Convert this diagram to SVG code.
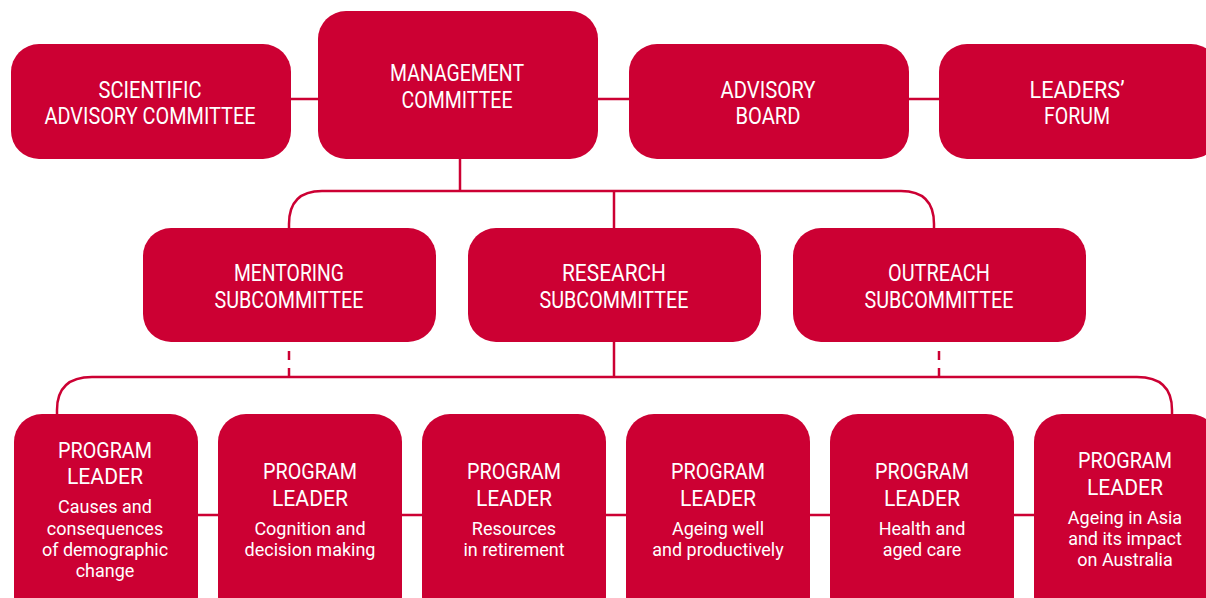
<svg xmlns="http://www.w3.org/2000/svg" width="1206" height="598" viewBox="0 0 1206 598">
<style>
.box{fill:#cc0033}
.ln{fill:none;stroke:#cc0033;stroke-width:2.5}
.dash{stroke-dasharray:9 8}
.h{font-family:Roboto,'Liberation Sans',sans-serif;font-size:23px;fill:#fff;text-anchor:middle}
.p{font-family:Roboto,'Liberation Sans',sans-serif;font-size:22px;fill:#fff;text-anchor:middle}
.s{font-family:Roboto,'Liberation Sans',sans-serif;font-size:18px;fill:#fff;text-anchor:middle}
</style>
<rect width="1206" height="598" fill="#fff"/>
<g id="connectors">
<line class="ln" x1="291" y1="99" x2="939" y2="99"/>
<line class="ln" x1="460" y1="159" x2="460" y2="191"/>
<path class="ln" d="M289,228 V224 Q289,191 322,191 H901 Q934,191 934,224 V228"/>
<line class="ln" x1="614" y1="191" x2="614" y2="377"/>
<path class="ln" d="M57,414 V410 Q57,377 92,377 H1137 Q1172,377 1172,410 V414"/>
<path class="ln dash" d="M289,377 V343"/>
<path class="ln dash" d="M939,377 V343"/>
<line class="ln" x1="198" y1="515" x2="1034" y2="515"/>
</g>
<g id="scientific"><rect class="box" x="11" y="44" width="280" height="115" rx="28"/><text class="h" x="150" y="98" textLength="103" lengthAdjust="spacingAndGlyphs">SCIENTIFIC</text><text class="h" x="150" y="124" textLength="211" lengthAdjust="spacingAndGlyphs">ADVISORY COMMITTEE</text></g>
<g id="management"><rect class="box" x="318" y="11" width="280" height="148" rx="28"/><text class="h" x="457" y="81" textLength="134" lengthAdjust="spacingAndGlyphs">MANAGEMENT</text><text class="h" x="457" y="108" textLength="111" lengthAdjust="spacingAndGlyphs">COMMITTEE</text></g>
<g id="advisory"><rect class="box" x="629" y="44" width="280" height="115" rx="28"/><text class="h" x="768" y="98" textLength="95" lengthAdjust="spacingAndGlyphs">ADVISORY</text><text class="h" x="768" y="124" textLength="65" lengthAdjust="spacingAndGlyphs">BOARD</text></g>
<g id="leaders"><rect class="box" x="939" y="44" width="280" height="115" rx="28"/><text class="h" x="1077" y="98" textLength="95" lengthAdjust="spacingAndGlyphs">LEADERS’</text><text class="h" x="1077" y="124" textLength="66" lengthAdjust="spacingAndGlyphs">FORUM</text></g>
<g id="mentoring"><rect class="box" x="143" y="228" width="293" height="114" rx="28"/><text class="h" x="289" y="281" textLength="110" lengthAdjust="spacingAndGlyphs">MENTORING</text><text class="h" x="289" y="308" textLength="149" lengthAdjust="spacingAndGlyphs">SUBCOMMITTEE</text></g>
<g id="research"><rect class="box" x="468" y="228" width="293" height="114" rx="28"/><text class="h" x="614" y="281" textLength="104" lengthAdjust="spacingAndGlyphs">RESEARCH</text><text class="h" x="614" y="308" textLength="149" lengthAdjust="spacingAndGlyphs">SUBCOMMITTEE</text></g>
<g id="outreach"><rect class="box" x="793" y="228" width="293" height="114" rx="28"/><text class="h" x="939" y="281" textLength="102" lengthAdjust="spacingAndGlyphs">OUTREACH</text><text class="h" x="939" y="308" textLength="149" lengthAdjust="spacingAndGlyphs">SUBCOMMITTEE</text></g>
<g id="pl1"><rect class="box" x="14" y="414" width="184" height="210" rx="28"/><text class="p" x="105" y="458" textLength="94" lengthAdjust="spacingAndGlyphs">PROGRAM</text><text class="p" x="105" y="484" textLength="76" lengthAdjust="spacingAndGlyphs">LEADER</text><text class="s" x="105" y="513">Causes and</text><text class="s" x="105" y="535">consequences</text><text class="s" x="105" y="556">of demographic</text><text class="s" x="105" y="577">change</text></g>
<g id="pl2"><rect class="box" x="218" y="414" width="184" height="210" rx="28"/><text class="p" x="310" y="479" textLength="94" lengthAdjust="spacingAndGlyphs">PROGRAM</text><text class="p" x="310" y="506" textLength="76" lengthAdjust="spacingAndGlyphs">LEADER</text><text class="s" x="310" y="535">Cognition and</text><text class="s" x="310" y="556">decision making</text></g>
<g id="pl3"><rect class="box" x="422" y="414" width="184" height="210" rx="28"/><text class="p" x="514" y="479" textLength="94" lengthAdjust="spacingAndGlyphs">PROGRAM</text><text class="p" x="514" y="506" textLength="76" lengthAdjust="spacingAndGlyphs">LEADER</text><text class="s" x="514" y="535">Resources</text><text class="s" x="514" y="556">in retirement</text></g>
<g id="pl4"><rect class="box" x="626" y="414" width="184" height="210" rx="28"/><text class="p" x="718" y="479" textLength="94" lengthAdjust="spacingAndGlyphs">PROGRAM</text><text class="p" x="718" y="506" textLength="76" lengthAdjust="spacingAndGlyphs">LEADER</text><text class="s" x="718" y="535">Ageing well</text><text class="s" x="718" y="556">and productively</text></g>
<g id="pl5"><rect class="box" x="830" y="414" width="184" height="210" rx="28"/><text class="p" x="922" y="479" textLength="94" lengthAdjust="spacingAndGlyphs">PROGRAM</text><text class="p" x="922" y="506" textLength="76" lengthAdjust="spacingAndGlyphs">LEADER</text><text class="s" x="922" y="535">Health and</text><text class="s" x="922" y="556">aged care</text></g>
<g id="pl6"><rect class="box" x="1034" y="414" width="184" height="210" rx="28"/><text class="p" x="1125" y="468" textLength="94" lengthAdjust="spacingAndGlyphs">PROGRAM</text><text class="p" x="1125" y="495" textLength="76" lengthAdjust="spacingAndGlyphs">LEADER</text><text class="s" x="1125" y="524">Ageing in Asia</text><text class="s" x="1125" y="545">and its impact</text><text class="s" x="1125" y="566">on Australia</text></g>
</svg>
